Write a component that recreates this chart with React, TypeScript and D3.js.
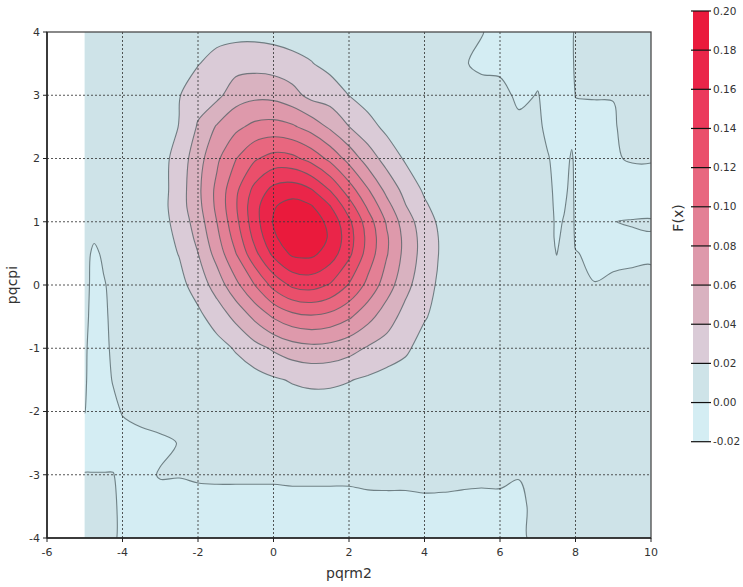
import React from "react";
import * as d3 from "d3";

// grid positions of the sampled surface (x left->right, y top->bottom)
const xGrid = [-5, -4.75, -4.5, -4.25, -4, -3.5, -3, -2.5, -2, -1.5, -1, -0.5, 0, 0.5, 1, 1.5, 2, 2.5, 3, 3.5, 4, 4.5, 5, 5.5, 6, 6.5, 7, 7.25, 7.5, 7.7, 7.9, 8, 8.5, 9, 9.5, 10];
const yGrid = [4, 3.5, 3, 2.5, 2, 1.5, 1.25, 1, 0.75, 0.5, 0, -0.5, -1, -1.5, -2, -2.5, -3, -3.5, -4];

// F(x), one row per yGrid entry
const zRows = [
  [.008, .008, .008, .008, .008, .008, .0088, .0101, .011, .012, .014, .014, .0125, .010, .0095, .0086, .008, .008, .008, .008, .008, .008, .008, .001, -.006, -.006, -.006, -.006, -.006, -.006, -.004, .004, .008, .008, .008, .008],
  [.008, .008, .008, .008, .008, .008, .0099, .0147, .019, .0282, .0322, .0332, .0313, .0268, .021, .014, .0097, .008, .008, .008, .008, .008, .002, -.004, -.006, -.006, -.006, -.006, -.006, -.006, -.004, .004, .008, .008, .008, .008],
  [.008, .008, .008, .008, .008, .0085, .0117, .019, .0321, .035, .051, .0553, .0544, .047, .034, .0307, .0198, .0117, .0089, .008, .008, .008, .008, .008, .008, -.005, .001, -.006, -.006, -.006, -.006, .0005, .001, .0005, .008, .008],
  [.008, .008, .008, .008, .008, .0092, .011, .0205, .042, .062, .0754, .0852, .0876, .0829, .0721, .0567, .0403, .0271, .0153, .0095, .008, .008, .008, .008, .008, .006, .0047, -.005, -.006, -.006, -.005, -.006, -.006, -.002, .008, .008],
  [.008, .008, .008, .008, .008, .0093, .0125, .028, .052, .0763, .0992, .1175, .1274, .1252, .113, .0948, .0729, .0505, .032, .0174, .0097, .008, .008, .008, .008, .008, .008, .002, -.006, -.006, .002, -.004, -.006, -.001, .001, .001],
  [.008, .008, .008, .008, .008, .0089, .012, .030, .0555, .0849, .1157, .146, .1664, .1713, .1619, .1392, .110, .0819, .0545, .0332, .0172, .0095, .008, .008, .008, .008, .008, .006, -.005, -.003, .004, -.004, -.006, -.006, -.006, -.006],
  [.008, .008, .008, .008, .008, .0087, .0125, .0307, .0538, .0845, .1179, .153, .1784, .1871, .1813, .1605, .129, .0963, .0669, .0407, .0229, .0104, .008, .008, .008, .008, .008, .007, -.004, -.001, .005, -.004, -.006, -.006, -.012, -.012],
  [.008, .008, .008, .008, .008, .0082, .0122, .0275, .0495, .0801, .1144, .1519, .1816, .1937, .1911, .1744, .1443, .1098, .0778, .0495, .0288, .0139, .0087, .008, .008, .008, .008, .008, -.003, .001, .006, -.004, -.006, -.0005, .002, .003],
  [.008, .003, .008, .008, .008, .008, .0104, .0243, .045, .0748, .108, .1455, .177, .1922, .1919, .1778, .1488, .1143, .0825, .0534, .0315, .0158, .0107, .008, .008, .008, .008, .008, -.003, .004, .007, -.003, -.006, -.006, -.004, -.002],
  [.008, -.005, .004, .008, .008, .008, .010, .0209, .0398, .0679, .0995, .1347, .1653, .1839, .185, .1711, .145, .112, .0817, .0533, .0317, .016, .0091, .008, .008, .008, .008, .008, -.0005, .006, .008, .001, -.004, -.006, -.005, -.004],
  [.006, -.006, -.002, .006, .008, .008, .0085, .0139, .0286, .0486, .0747, .100, .1264, .1438, .1476, .1383, .1187, .0945, .0699, .0458, .0278, .014, .0089, .008, .008, .008, .008, .008, .008, .008, .008, .008, .0005, .0043, .006, .0071],
  [.004, -.006, -.005, .006, .008, .008, .008, .0092, .0154, .0289, .0451, .0644, .0822, .0937, .0977, .0936, .0831, .0669, .0491, .033, .022, .0102, .008, .008, .008, .008, .008, .008, .008, .008, .008, .008, .008, .008, .008, .008],
  [.002, -.006, -.006, .004, .008, .008, .008, .008, .0087, .0127, .0218, .033, .0427, .0511, .0546, .053, .047, .0379, .032, .024, .0104, .008, .008, .008, .008, .008, .008, .008, .008, .008, .008, .008, .008, .008, .008, .008],
  [.0015, -.006, -.006, .001, .008, .008, .008, .008, .008, .008, .0095, .0124, .0176, .0216, .0242, .0238, .0209, .0171, .0123, .0091, .008, .008, .008, .008, .008, .008, .008, .008, .008, .008, .008, .008, .008, .008, .008, .008],
  [.0003, -.006, -.006, -.004, .001, .006, .007, .008, .008, .008, .008, .008, .0084, .0091, .0095, .0095, .0092, .0086, .008, .008, .008, .008, .008, .008, .008, .008, .008, .008, .008, .008, .008, .008, .008, .008, .008, .008],
  [-.006, -.006, -.006, -.006, -.006, -.006, -.003, .0005, .008, .008, .008, .008, .008, .008, .008, .008, .008, .008, .008, .008, .008, .008, .008, .008, .008, .008, .008, .008, .008, .008, .008, .008, .008, .008, .008, .008],
  [.0005, .0005, .0005, .0005, -.004, -.004, .001, .0007, .0021, .0026, .0026, .0026, .0026, .0034, .0034, .0034, .0034, .0055, .006, .006, .0083, .0075, .0055, .0043, .0047, .0011, .008, .008, .008, .008, .008, .008, .008, .008, .008, .008],
  [.004, .004, .004, .004, -.006, -.006, -.006, -.006, -.006, -.006, -.006, -.006, -.006, -.006, -.006, -.006, -.006, -.006, -.006, -.006, -.006, -.006, -.006, -.006, -.006, -.006, .008, .008, .008, .008, .008, .008, .008, .008, .008, .008],
  [.004, .004, .004, .004, -.006, -.006, -.006, -.006, -.006, -.006, -.006, -.006, -.006, -.006, -.006, -.006, -.006, -.006, -.006, -.006, -.006, -.006, -.006, -.006, -.006, -.006, .008, .008, .008, .008, .008, .008, .008, .008, .008, .008],
];

const levels = [-0.02, 0, 0.02, 0.04, 0.06, 0.08, 0.1, 0.12, 0.14, 0.16, 0.18, 0.2];
const bandColors = ["#d4edf3", "#cee3e8", "#dacbd7", "#d9b2c0", "#de99ab", "#e38095", "#e8677f", "#ea4f6b", "#eb3a5c", "#ea2549", "#ea1a3c"];
const xTicks = [-6, -4, -2, 0, 2, 4, 6, 8, 10];
const yTicks = [-4, -3, -2, -1, 0, 1, 2, 3, 4];

const font = "'DejaVu Sans', Verdana, sans-serif";

export default function App() {
  const W = 743, H = 587;
  const L = 47, R = 651, T = 32, B = 538;
  const x = d3.scaleLinear().domain([-6, 10]).range([L, R]);
  const y = d3.scaleLinear().domain([-4, 4]).range([B, T]);
  const cbar = d3.scaleLinear().domain([-0.02, 0.2]).range([441.7, 11]);

  const nx = xGrid.length, ny = yGrid.length;
  // contour grid coords -> data coords (value i sits at i + 0.5)
  const gx = d3.scaleLinear().domain(xGrid.map((_, i) => i + 0.5)).range(xGrid);
  const gy = d3.scaleLinear().domain(yGrid.map((_, i) => i + 0.5)).range(yGrid);

  const bands = d3.contours().size([nx, ny]).thresholds(levels.slice(0, -1))(zRows.flat());
  const line = d3.line().curve(d3.curveCatmullRomClosed.alpha(0.5));
  const toPath = (mp: any) =>
    mp.coordinates
      .map((poly: any) =>
        poly
          .map((ring: any) => line(ring.slice(0, -1).map(([cx, cy]: number[]) => [x(gx(cx)), y(gy(cy))])))
          .join("")
      )
      .join("");
  const paths = bands.map((b) => toPath(b));
  const fmt = (v: number) => d3.format(".2f")(v).replace("\u2212", "-");

  return (
    <svg width={W} height={H} style={{ position: "absolute", left: 0, top: 0, display: "block", background: "#fff" }}>
      <defs>
        <clipPath id="plotclip">
          <rect x={x(-5)} y={T} width={x(10) - x(-5)} height={B - T} />
        </clipPath>
      </defs>

      <g clipPath="url(#plotclip)">
        {paths.map((d, i) => (
          <path key={"f" + i} d={d} fill={bandColors[i]} fillRule="evenodd" stroke="none" />
        ))}
        {paths.map((d, i) =>
          i === 0 ? null : (
            <path key={"s" + i} d={d} fill="none" stroke="#4f5f63" strokeOpacity={0.75} strokeWidth={1.1} />
          )
        )}
      </g>

      {/* grid */}
      <g stroke="#3a3a3a" strokeDasharray="2,2" strokeWidth={1} opacity={0.85}>
        {xTicks.slice(1, -1).map((t) => (
          <line key={"gx" + t} x1={x(t)} x2={x(t)} y1={T} y2={B} />
        ))}
        {yTicks.slice(1, -1).map((t) => (
          <line key={"gy" + t} x1={L} x2={R} y1={y(t)} y2={y(t)} />
        ))}
      </g>

      {/* frame and axes */}
      <rect x={L} y={T} width={R - L} height={B - T} fill="none" stroke="#4a4a4a" strokeWidth={1.3} />
      <line x1={L} x2={L} y1={T} y2={B} stroke="#222" strokeWidth={1.5} />
      <line x1={L} x2={R} y1={B} y2={B} stroke="#222" strokeWidth={1.5} />

      <g fontFamily={font} fontSize={11} fill="#333">
        {yTicks.map((t) => (
          <g key={"yt" + t}>
            <line x1={L - 4} x2={L} y1={y(t)} y2={y(t)} stroke="#222" />
            <text x={L - 7} y={y(t)} dy="0.35em" textAnchor="end">{t}</text>
          </g>
        ))}
        {xTicks.map((t) => (
          <g key={"xt" + t}>
            <line x1={x(t)} x2={x(t)} y1={B} y2={B + 4} stroke="#222" />
            <text x={x(t)} y={B + 18} textAnchor="middle">{t}</text>
          </g>
        ))}
      </g>

      <text x={(L + R) / 2} y={578} textAnchor="middle" fontFamily={font} fontSize={14} fill="#333">pqrm2</text>
      <text transform={`translate(17,${(T + B) / 2}) rotate(-90)`} textAnchor="middle" fontFamily={font} fontSize={14} fill="#333">pqcpi</text>

      {/* colour bar */}
      <g>
        {bandColors.map((c, i) => (
          <rect key={"cb" + i} x={693} width={16} y={cbar(levels[i + 1])} height={cbar(levels[i]) - cbar(levels[i + 1])} fill={c} />
        ))}
        {levels.map((v) => (
          <g key={"cl" + v}>
            <line x1={691} x2={711} y1={cbar(v)} y2={cbar(v)} stroke="#111" strokeWidth={1.2} />
            <text x={713} y={cbar(v)} dy="0.35em" fontFamily={font} fontSize={10.5} fill="#333">{fmt(v)}</text>
          </g>
        ))}
        <text transform={`translate(683,218) rotate(-90)`} textAnchor="middle" fontFamily={font} fontSize={14} fill="#333">F(x)</text>
      </g>
    </svg>
  );
}
